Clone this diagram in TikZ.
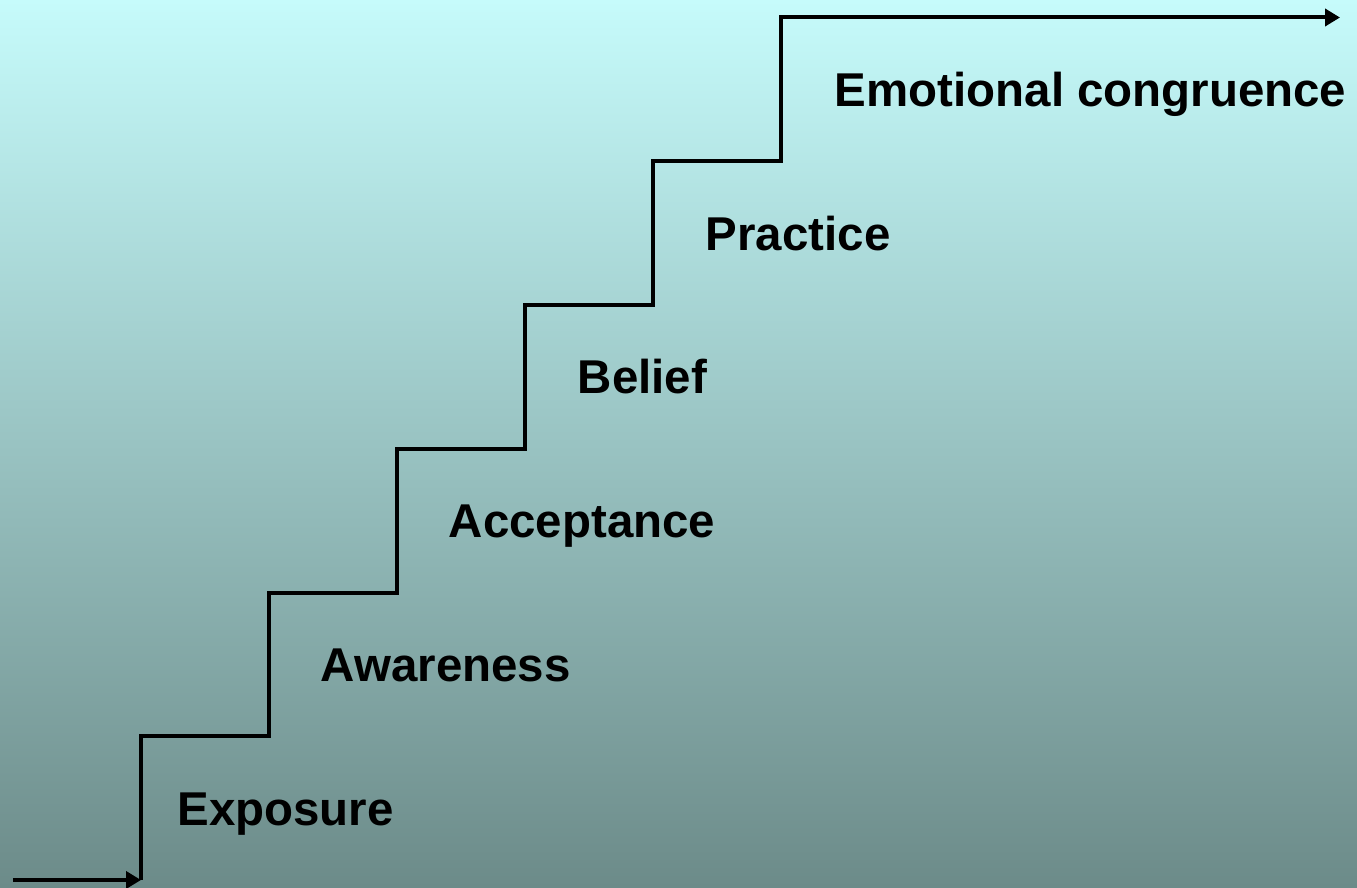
\documentclass[tikz,border=0pt]{standalone}
\usepackage{fontspec}
\setmainfont{Liberation Sans}
\usetikzlibrary{arrows.meta, calc}
\definecolor{skytop}{RGB}{198,251,251}
\definecolor{skybottom}{RGB}{108,139,137}
\begin{document}
\begin{tikzpicture}[
    stair/.style={line width=0.08cm, line join=miter},
    stage/.style={anchor=base west, inner sep=0pt, font=\fontsize{27}{32}\selectfont\bfseries}
]

\shade[top color=skytop, bottom color=skybottom] (0, 0) rectangle (27.14, 17.74);
\useasboundingbox (0, 0) rectangle (27.14, 17.74);

% corners of the steps
\foreach \i in {0, ..., 5} {
    \coordinate (s\i) at ({2.82 + 2.56*\i}, {0.14 + 2.875*\i});
}
\coordinate (in) at (0.26, 0.14);
\coordinate (top) at (15.62, 17.39);
\coordinate (out) at (26.8, 17.39);

\draw[stair, -{Triangle[length=0.3cm, width=0.34cm]}] (in) -- (s0);
\draw[stair, -{Triangle[length=0.3cm, width=0.34cm]}]
    (s0) |- (s1) |- (s2) |- (s3) |- (s4) |- (s5) -- (top) -- (out);

\node[stage] (exposure) at ($(s0) + (0.72, 1.1)$) {Exposure};
\node[stage] (awareness) at ($(s1) + (1.03, 1.1)$) {Awareness};
\node[stage] (acceptance) at ($(s2) + (1.03, 1.1)$) {Acceptance};
\node[stage] (belief) at ($(s3) + (1.05, 1.1)$) {Belief};
\node[stage] (practice) at ($(s4) + (1.05, 1.1)$) {Practice};
\node[stage] (congruence) at ($(s5) + (1.07, 1.1)$) {Emotional congruence};

\end{tikzpicture}
\end{document}
